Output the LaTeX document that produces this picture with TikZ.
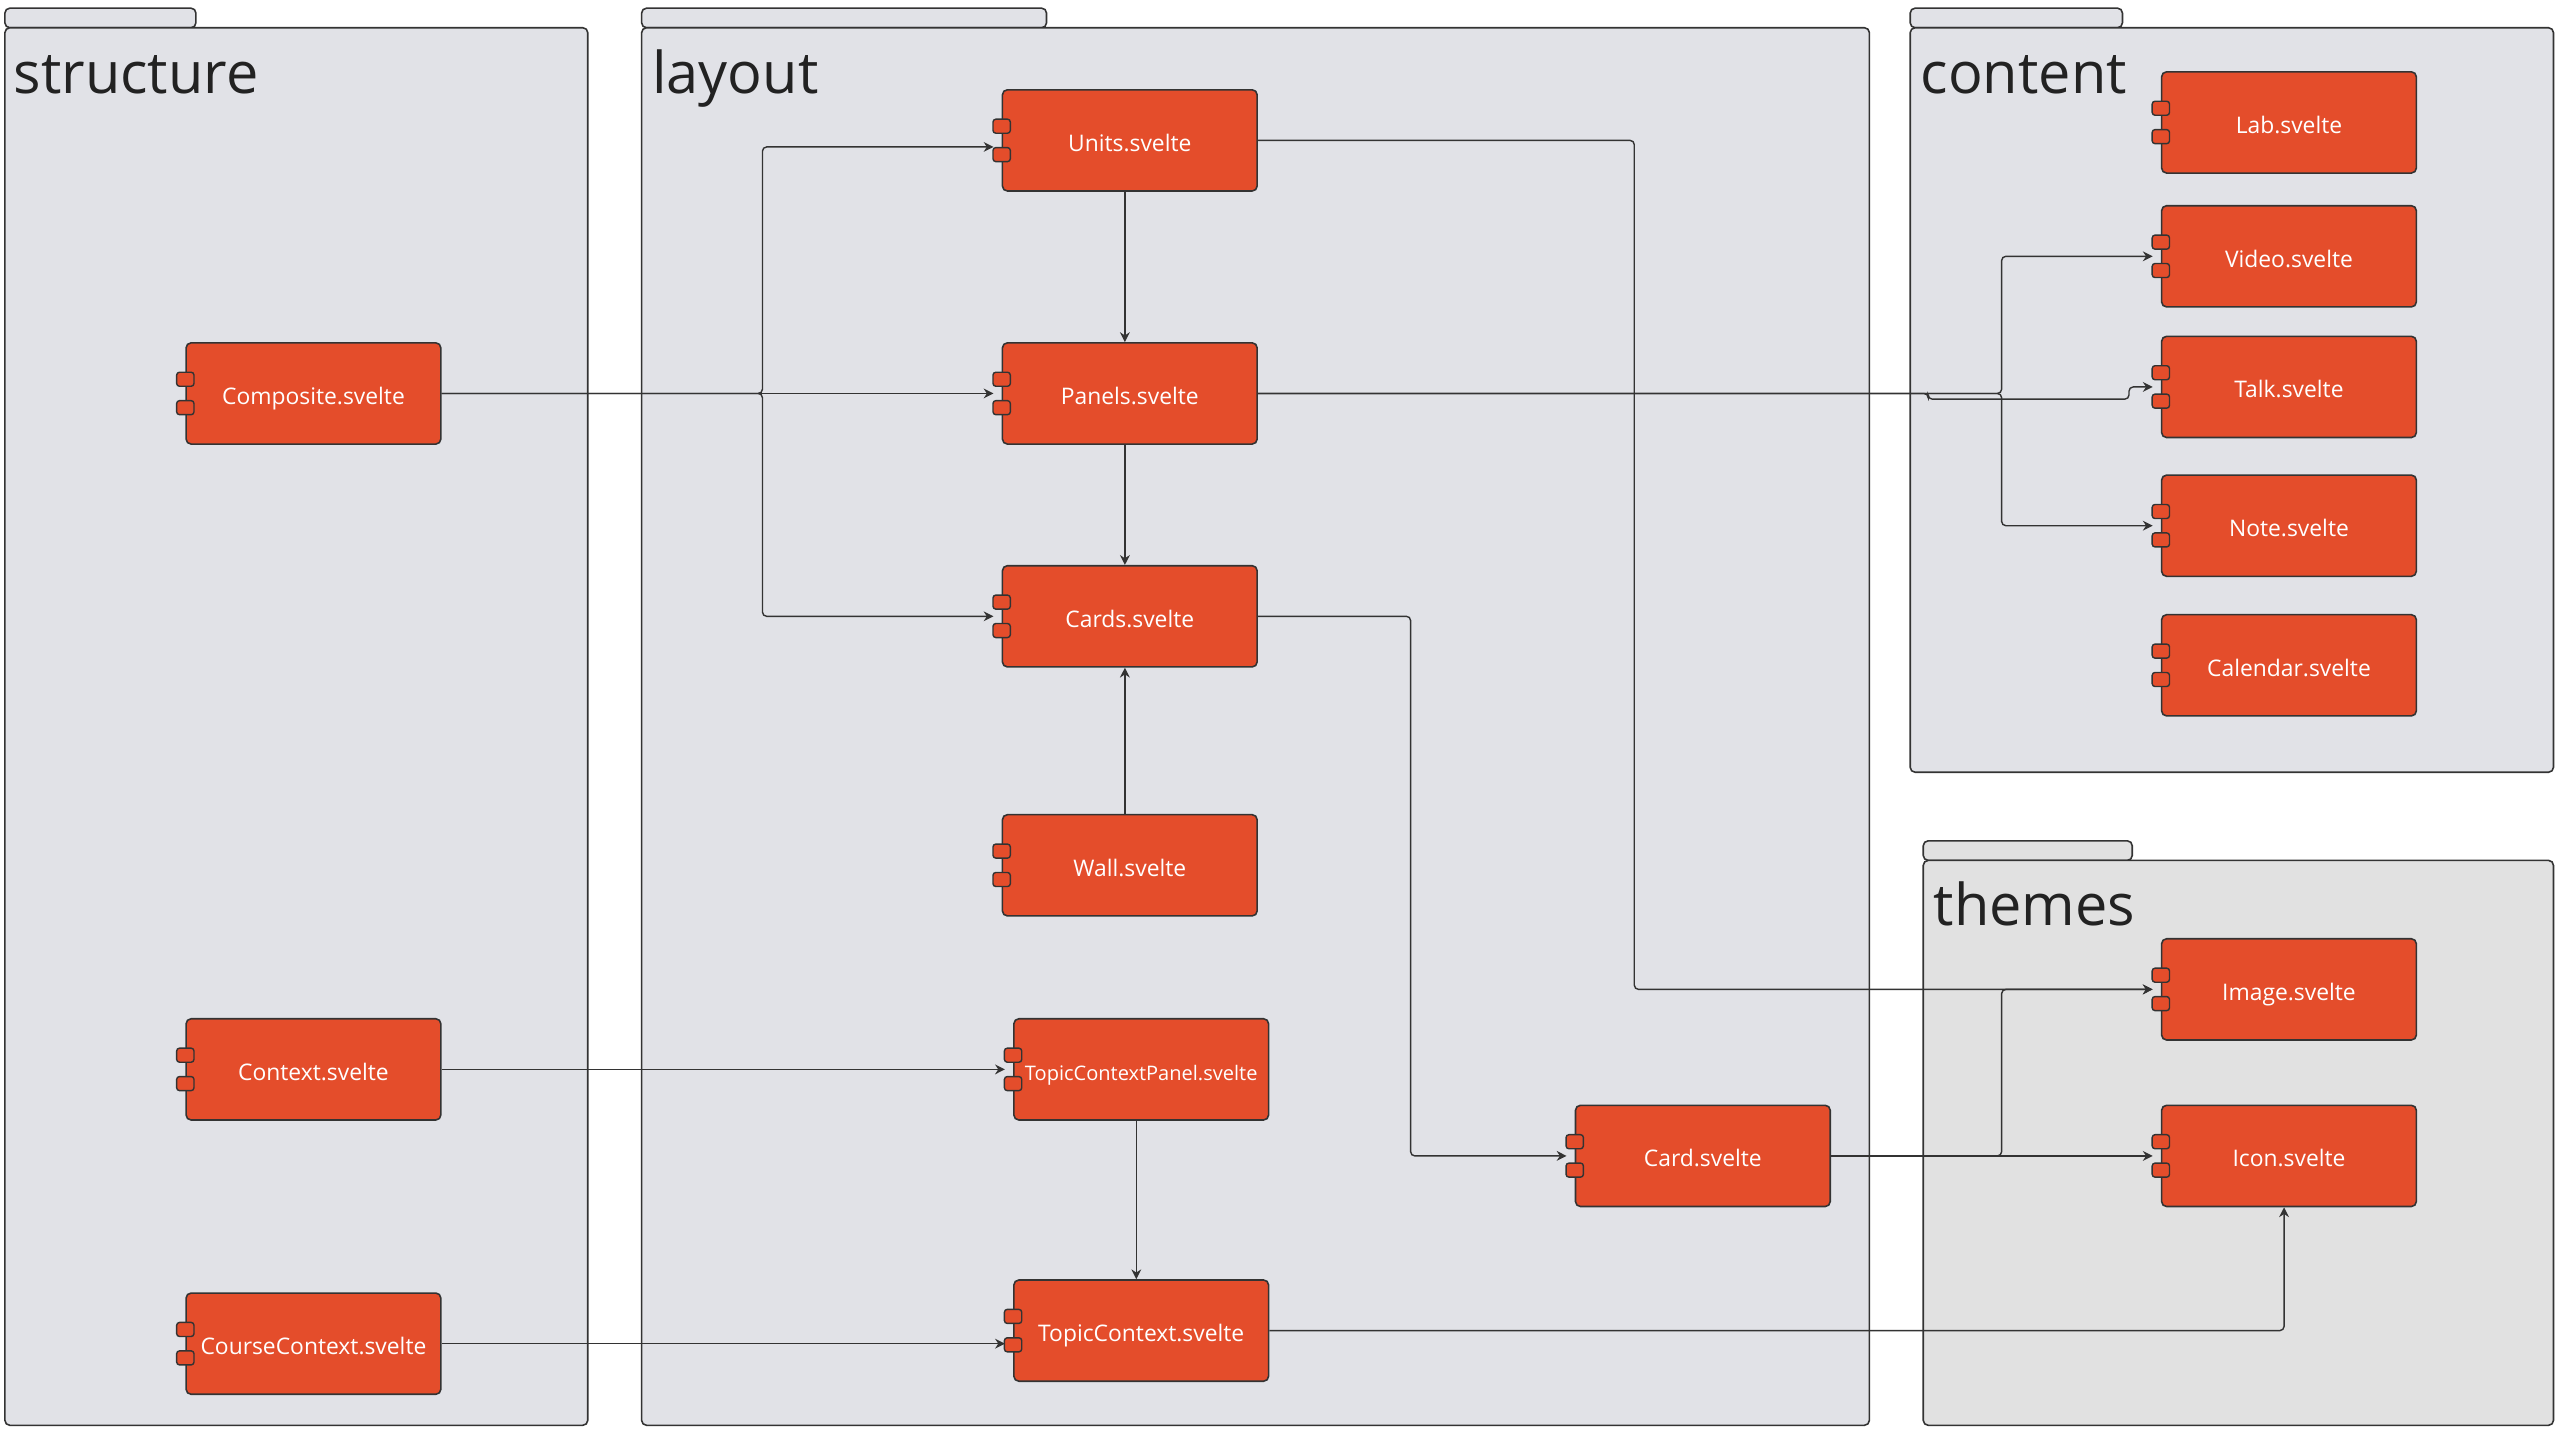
\documentclass[tikz,border=0pt]{standalone}
\usepackage{fontspec}
\setmainfont{Open Sans}
\usetikzlibrary{arrows.meta,calc}

\definecolor{laranja}{HTML}{E44D2B}
\definecolor{pacote}{HTML}{E1E2E7}
\definecolor{pacotecinza}{HTML}{E1E1E1}
\definecolor{contorno}{HTML}{333333}
\definecolor{titulocor}{HTML}{222222}

\tikzset{
  comp/.style={draw=contorno, fill=laranja, line width=0.45pt, rounded corners=1.4pt,
    minimum width=2.547cm, minimum height=1.012cm, inner sep=0pt,
    text height=0.73em, text depth=0.12em,
    text=white, font=\fontsize{6.5}{8}\selectfont},
  porta/.style={draw=contorno, fill=laranja, line width=0.4pt, rounded corners=0.8pt},
  pacote/.style={draw=contorno, fill=pacote, line width=0.45pt, rounded corners=1.4pt},
  titulo/.style={anchor=base west, inner sep=0pt, text=titulocor, font=\fontsize{16.4}{18}\selectfont},
  liga/.style={draw=contorno, line width=0.4pt, rounded corners=1.2pt},
  seta/.style={liga, -{Stealth[length=2.8pt, width=2.8pt]}}
}

\begin{document}
\begin{tikzpicture}[x=0.01633cm, y=-0.01633cm]  %Inicio, unidade = 1 px da imagem
  \useasboundingbox (0,0) rectangle (1568,882);
          %Pacotes
  \draw[pacote] (3,5) rectangle (120,17); %Aba structure
  \draw[pacote] (3,17) rectangle (360,873); %Pacote structure
  \draw[pacote] (393,5) rectangle (641,17); %Aba layout
  \draw[pacote] (393,17) rectangle (1145,873); %Pacote layout
  \draw[pacote] (1170,5) rectangle (1300,17); %Aba content
  \draw[pacote] (1170,17) rectangle (1564,473); %Pacote content
  \draw[pacote, fill=pacotecinza] (1178,515) rectangle (1306,527); %Aba themes
  \draw[pacote, fill=pacotecinza] (1178,527) rectangle (1564,873); %Pacote themes
  \node[titulo] (tstructure) at (8,57) {structure};
  \node[titulo] (tlayout) at (399,57) {layout};
  \node[titulo] (tcontent) at (1176,57) {content};
  \node[titulo] (tthemes) at (1184,567) {themes};
          %Componentes
  \node[comp] (composite) at (192,241) {Composite.svelte};
  \node[comp] (context) at (192,655) {Context.svelte};
  \node[comp] (coursecontext) at (192,823) {CourseContext.svelte};
  \node[comp] (units) at (692,86) {Units.svelte};
  \node[comp] (panels) at (692,241) {Panels.svelte};
  \node[comp] (cards) at (692,377.5) {Cards.svelte};
  \node[comp] (wall) at (692,530) {Wall.svelte};
  \node[comp, font=\fontsize{5.7}{7}\selectfont] (topicpanel) at (699,655) {TopicContextPanel.svelte};
  \node[comp] (topic) at (699,815) {TopicContext.svelte};
  \node[comp] (card) at (1043,708) {Card.svelte};
  \node[comp] (lab) at (1402,75) {Lab.svelte};
  \node[comp] (video) at (1402,157) {Video.svelte};
  \node[comp] (talk) at (1402,237) {Talk.svelte};
  \node[comp] (note) at (1402,322) {Note.svelte};
  \node[comp] (calendar) at (1402,407.5) {Calendar.svelte};
  \node[comp] (image) at (1402,606) {Image.svelte};
  \node[comp] (icon) at (1402,708) {Icon.svelte};
          %Portas
  \foreach \c in {composite,context,coursecontext,units,panels,cards,wall,topicpanel,topic,card,lab,video,talk,note,calendar,image,icon}{
    \draw[porta] ($(\c.west)+(-5.3,-13)$) rectangle ($(\c.west)+(5.3,-4.4)$); %Porta de cima
    \draw[porta] ($(\c.west)+(-5.3,4.4)$) rectangle ($(\c.west)+(5.3,13)$); %Porta de baixo
  }
          %Ligacoes
  \coordinate (troncoA) at (467,241);
  \draw[seta] (composite.east) -- ($(panels.west)+(-5,0)$);
  \draw[seta] (composite.east) -- (troncoA) |- ($(units.west)+(-5,4)$);
  \draw[seta] (composite.east) -- (troncoA) |- ($(cards.west)+(-5,0)$);
  \draw[seta] ($(units.south)+(-3,0)$) -- ($(panels.north)+(-3,0)$);
  \draw[seta] ($(panels.south)+(-3,0)$) -- ($(cards.north)+(-3,0)$);
  \draw[seta] ($(wall.north)+(-3,0)$) -- ($(cards.south)+(-3,0)$);
  \draw[seta] (context.east) -- ($(topicpanel.west)+(-5,0)$);
  \draw[seta] (coursecontext.east) -- ($(topic.west)+(-5,8)$);
  \draw[seta] ($(topicpanel.south)+(-3,0)$) -- ($(topic.north)+(-3,0)$);
  \draw[seta] (units.east) -| (1001,606) -- ($(image.west)+(-5,0)$); %Units para Image
  \draw[seta] (cards.east) -| (864,708) -- ($(card.west)+(-5,0)$); %Cards para Card
  \draw[seta] (card.east) -- ($(icon.west)+(-5,0)$);
  \draw[seta] (card.east) -| (1226,606) -- ($(image.west)+(-5,0)$);
  \draw[seta] (topic.east) -| ($(icon.south)+(-3,0)$);
  \coordinate (troncoB) at (1226,241);
  \draw[seta] (panels.east) -- (troncoB) |- ($(video.west)+(-5,0)$);
  \draw[seta] (panels.east) -- (troncoB) |- ($(note.west)+(-5,0)$);
  \draw[seta] (panels.east) -- (1181,241) -- (1181,244.5) -- (1304,244.5) -- (1304,237) -- ($(talk.west)+(-5,0)$); %Desvio para Talk
\end{tikzpicture}
\end{document}
